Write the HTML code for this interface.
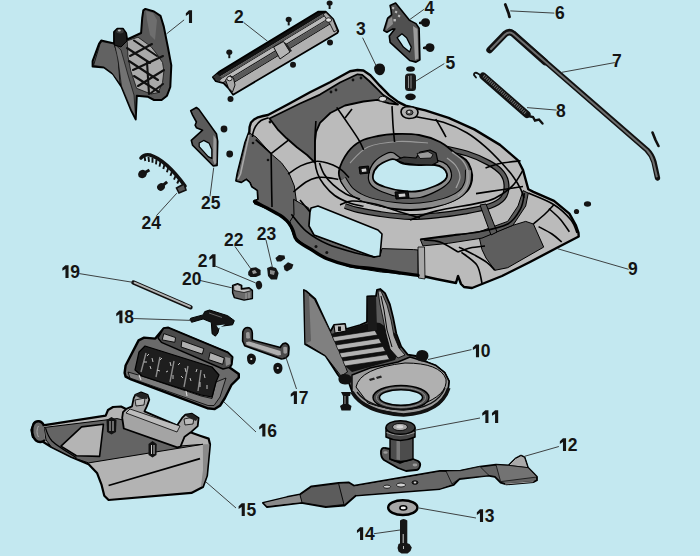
<!DOCTYPE html>
<html><head><meta charset="utf-8"><style>
html,body{margin:0;padding:0;background:#c3e8f0;}
svg{display:block;}
text{font-family:"Liberation Sans",sans-serif;font-weight:bold;font-size:17.5px;fill:#141414;}
</style></head><body>
<svg width="700" height="556" viewBox="0 0 700 556">
<rect width="700" height="556" fill="#c3e8f0"/>
<g id="deck" stroke-linejoin="round">
<path d="M249.6,127 251,122.5 254,119.5 258,117.3 263,116 268,115 290,103.3 310,92.3 330,82.3 350,71.3 357.5,70 363.4,70.5 370.4,75.2 379.8,85.7 389.1,95.1 398.5,102.1 405.5,105.6 420,109.1 425.4,110.3 448.6,117.9 474.3,129.4 500,144.9 518,160.3 523,170 528.3,189.3 533.4,191.9 554,200.9 569.4,213.7 575.9,225.3 578.5,233 578.7,236.5 557.5,247.5 530,262 502,276 472,288 464,287 461,284 458,276 456,283 436,279 418,275 401.4,272.9 372.9,268.6 350,265.7 327,258.6 310,248.6 296.8,240 293,230.5 290.5,225.4 286.7,220.4 280.4,215.3 267.8,208.4 255.2,203.4 254.6,200.9 258.3,199.6 257.7,190.2 252,186.4 250.2,182 246.4,178.8 241.3,182 236.3,180.7 237.7,173 245.4,142.3 249.3,132 Z" fill="#bbbbbb" stroke="#000" stroke-width="2.4"/>
<path d="M269.5,118.5 300,103.5 320,94.6 340,82.5 357.5,74.3 362.2,74.8 369.2,81 377.4,89.2 383.3,95.1 392.6,101 398,104.5 389.1,103.3 377.4,99.8 363.4,101.5 345,105.5 330.3,113 320,122.9 316.1,131.9 314.9,142.1 314.9,162.7 307.1,155 296.9,147.3 286.6,138.3 277.6,129.3 Z" fill="#626262" stroke="#000" stroke-width="1.8"/>
<path d="M249.5,133 256,137 271,153.7 281.4,162.7 289,173 294.3,185.9 296.9,204.9 298,215 300,228 296.8,240 293,230.5 290.5,225.4 286.7,220.4 280.4,215.3 267.8,208.4 255.2,203.4 254.6,200.9 258.3,199.6 257.7,190.2 252,186.4 250.2,182 246.4,178.8 241.3,182 236.3,180.7 237.7,173 245.4,142.3 Z" fill="#636363" stroke="#000" stroke-width="1"/>
<path d="M249,135 L240.5,174 L238,179" fill="none" stroke="#a8a8a8" stroke-width="1.6"/>
<path d="M293.6,199.3 300,203 308.6,207.9 310,212 309,226 314,235 374,257 380,256 382,248.6 413.6,249.6 418,250 418,275.4 401.4,273.5 381.4,272.1 349.3,266.8 327.9,259.3 306.4,246.4 298.6,240 293.6,235.7 291,228 290,221.4 294,215 Z" fill="#646464" stroke="#000" stroke-width="1"/>
<path d="M479.4,238.1 512.9,225.3 525.7,221.4 533.4,224 543.7,247.1 507.7,267.7 494.9,270.3 486,258 482,249.7 Z" fill="#5e5e5e" stroke="#000" stroke-width="1"/>
<path d="M434.0,146.0 C439.5,147.2 457.8,150.7 467.0,153.5 C476.2,156.3 483.2,159.8 489.0,163.0 C494.8,166.2 499.1,169.3 502.0,173.0 C504.9,176.7 506.3,180.8 506.5,185.0 C506.7,189.2 505.8,194.5 503.0,198.0 C500.2,201.5 496.3,203.8 490.0,206.0 C483.7,208.2 473.3,210.0 465.0,211.5 C456.7,213.0 449.2,214.1 440.0,215.0 C430.8,215.9 420.0,217.2 410.0,217.0 C400.0,216.8 388.7,215.2 380.0,214.0 C371.3,212.8 363.8,211.3 358.0,210.0 C352.2,208.7 347.2,206.7 345.0,206.0" fill="none" stroke="#000" stroke-width="6"/>
<path d="M434.0,146.0 C439.5,147.2 457.8,150.7 467.0,153.5 C476.2,156.3 483.2,159.8 489.0,163.0 C494.8,166.2 499.1,169.3 502.0,173.0 C504.9,176.7 506.3,180.8 506.5,185.0 C506.7,189.2 505.8,194.5 503.0,198.0 C500.2,201.5 496.3,203.8 490.0,206.0 C483.7,208.2 473.3,210.0 465.0,211.5 C456.7,213.0 449.2,214.1 440.0,215.0 C430.8,215.9 420.0,217.2 410.0,217.0 C400.0,216.8 388.7,215.2 380.0,214.0 C371.3,212.8 363.8,211.3 358.0,210.0 C352.2,208.7 347.2,206.7 345.0,206.0" fill="none" stroke="#5a5a5a" stroke-width="3.6"/>
<path d="M420.3,239.4 446,236.9 479.4,231.7 507.7,221.4 518,206 523.1,190.6 528.3,193.1 525.7,206 512.9,225.3 482,238.1 448.6,243.3 422.9,245.9 Z" fill="#5a5a5a" stroke="#000" stroke-width="1"/>
<path d="M480,205 L486,204 L497,232 L491,235 Z" fill="#5a5a5a" stroke="#000" stroke-width="1"/>
<path d="M418,247 L424.5,247 L425,279 L418.5,278 Z" fill="#a8a8a8" stroke="#000" stroke-width="0.8"/>
<path d="M339.0,171.0 C340.0,165.8 344.3,157.0 348.0,152.0 C351.7,147.0 356.0,143.7 361.0,141.0 C366.0,138.3 372.3,137.2 378.0,136.0 C383.7,134.8 388.2,134.2 395.0,134.0 C401.8,133.8 411.5,133.7 419.0,135.0 C426.5,136.3 434.0,139.0 440.0,142.0 C446.0,145.0 450.7,150.0 455.0,153.0 C459.3,156.0 463.3,157.3 466.0,160.0 C468.7,162.7 470.0,165.7 471.0,169.0 C472.0,172.3 472.7,176.3 472.0,180.0 C471.3,183.7 470.7,187.3 467.0,191.0 C463.3,194.7 457.0,199.0 450.0,202.0 C443.0,205.0 432.5,207.7 425.0,209.0 C417.5,210.3 411.7,210.3 405.0,210.0 C398.3,209.7 391.7,208.7 385.0,207.0 C378.3,205.3 370.7,202.3 365.0,200.0 C359.3,197.7 354.8,195.8 351.0,193.0 C347.2,190.2 344.0,186.7 342.0,183.0 C340.0,179.3 338.0,176.2 339.0,171.0 Z" fill="#5c5c5c" stroke="#000" stroke-width="1.8"/>
<path d="M343.0,179.0 C344.5,181.1 347.7,187.9 352.0,191.5 C356.3,195.1 361.8,198.2 369.0,200.5 C376.2,202.8 386.5,204.6 395.0,205.5 C403.5,206.4 411.8,206.7 420.0,206.0 C428.2,205.3 437.2,203.6 444.0,201.5 C450.8,199.4 456.6,196.6 460.5,193.5 C464.4,190.4 466.2,186.9 467.5,183.0 C468.8,179.1 468.3,172.2 468.5,170.0" fill="none" stroke="#000" stroke-width="7"/>
<path d="M343.0,179.0 C344.5,181.1 347.7,187.9 352.0,191.5 C356.3,195.1 361.8,198.2 369.0,200.5 C376.2,202.8 386.5,204.6 395.0,205.5 C403.5,206.4 411.8,206.7 420.0,206.0 C428.2,205.3 437.2,203.6 444.0,201.5 C450.8,199.4 456.6,196.6 460.5,193.5 C464.4,190.4 466.2,186.9 467.5,183.0 C468.8,179.1 468.3,172.2 468.5,170.0" fill="none" stroke="#8a8a8a" stroke-width="5"/>
<path d="M368.6,174.8 C369.1,171.0 371.2,165.6 374.2,162.0 C377.1,158.5 383.3,155.0 386.5,153.5 C389.7,152.0 390.6,152.0 393.2,152.8 C395.8,153.6 397.7,157.2 402.2,158.5 C406.6,159.8 414.1,160.2 420.1,160.6 C426.1,160.9 433.5,159.9 438.0,160.6 C442.5,161.3 444.7,162.7 447.0,164.8 C449.2,167.0 451.1,170.5 451.4,173.4 C451.8,176.2 451.4,179.0 449.2,181.9 C447.0,184.7 442.9,187.8 438.0,190.4 C433.1,193.0 426.1,196.3 420.1,197.5 C414.1,198.7 408.5,198.5 402.2,197.5 C395.8,196.6 387.2,194.0 382.0,191.8 C376.8,189.7 373.0,187.6 370.8,184.7 C368.6,181.9 368.0,178.6 368.6,174.8 Z" fill="#8c8c8c" stroke="#000" stroke-width="1.2"/>
<path d="M452.0,152.0 C453.8,153.5 460.3,157.5 463.0,161.0 C465.7,164.5 467.5,168.7 468.0,173.0 C468.5,177.3 467.7,183.2 466.0,187.0 C464.3,190.8 459.3,194.5 458.0,196.0" fill="none" stroke="#a0a0a0" stroke-width="1.4"/>
<path d="M447.0,158.0 C448.5,159.3 453.8,162.8 456.0,166.0 C458.2,169.2 460.0,173.3 460.0,177.0 C460.0,180.7 456.7,186.2 456.0,188.0" fill="none" stroke="#a0a0a0" stroke-width="1.2"/>
<path d="M350.0,163.0 C353.0,160.3 360.0,150.6 368.0,147.0 C376.0,143.4 388.0,142.2 398.0,141.5 C408.0,140.8 423.0,142.8 428.0,143.0" fill="none" stroke="#9a9a9a" stroke-width="1.1"/>
<path d="M373.0,175.0 C373.5,172.3 375.3,168.5 378.0,166.0 C380.7,163.5 386.2,161.1 389.0,160.0 C391.8,158.9 392.7,158.9 395.0,159.5 C397.3,160.1 399.0,162.6 403.0,163.5 C407.0,164.4 413.7,164.8 419.0,165.0 C424.3,165.2 431.0,164.5 435.0,165.0 C439.0,165.5 441.0,166.5 443.0,168.0 C445.0,169.5 446.7,172.0 447.0,174.0 C447.3,176.0 447.0,178.0 445.0,180.0 C443.0,182.0 439.3,184.2 435.0,186.0 C430.7,187.8 424.3,190.2 419.0,191.0 C413.7,191.8 408.7,191.7 403.0,191.0 C397.3,190.3 389.7,188.5 385.0,187.0 C380.3,185.5 377.0,184.0 375.0,182.0 C373.0,180.0 372.5,177.7 373.0,175.0 Z" fill="#c3e8f0" stroke="#000" stroke-width="1.8"/>
<path d="M396,160 L404,157 L416,158 L420,152 L430,150 L436,153 L438,162 L432,165 L416,164.5 L404,163 Z" fill="#3a3a3a" stroke="#000" stroke-width="1.2"/>
<path d="M417,153.5 L428,151.5 L433,154.5 L431,158 L420,158.5 Z" fill="#9a9a9a" stroke="#000" stroke-width="0.8"/>
<path d="M311,208 318,206 378,230 382,234 380,256 374,257 314,235 309,226 310,212 Z" fill="#c3e8f0" stroke="#000" stroke-width="1.6"/>
<path d="M254.6,201.5 C256.8,202.7 263.5,206.3 267.8,208.6 C272.1,210.9 277.2,213.5 280.4,215.5 C283.5,217.5 285.0,218.9 286.7,220.6 C288.4,222.3 289.4,223.9 290.5,225.6 C291.6,227.3 291.9,228.3 293.0,230.7 C294.1,233.1 294.0,237.2 296.8,240.2 C299.6,243.2 305.0,245.7 310.0,248.8 C315.0,251.9 320.3,256.0 327.0,258.8 C333.7,261.6 342.4,264.2 350.0,265.9 C357.6,267.6 364.3,267.6 372.9,268.8 C381.5,270.0 393.9,272.0 401.4,273.1 C408.9,274.2 415.2,275.0 418.0,275.4" fill="none" stroke="#000" stroke-width="3.4" stroke-linecap="round"/>
<g fill="none" stroke="#000" stroke-width="1.6">
<path d="M485.5,168.0 C487.9,167.2 494.1,164.7 500.0,163.5 C505.9,162.3 517.2,161.2 520.6,160.8"/>
<path d="M476.0,193.6 C480.0,193.0 492.2,191.2 500.0,190.0 C507.8,188.8 519.2,187.1 523.0,186.5"/>
<path d="M288.0,174.0 C290.1,172.7 296.4,168.0 300.6,165.9 C304.8,163.8 309.6,162.4 313.2,161.7 C316.8,161.0 318.9,161.1 322.2,161.7 C325.5,162.2 329.7,163.6 333.0,165.0 C336.3,166.4 339.3,168.3 342.0,170.4 C344.7,172.5 347.8,176.4 349.0,177.6"/>
<path d="M293.4,192.0 C295.5,190.3 302.1,184.4 306.0,182.0 C309.9,179.6 313.2,178.3 316.8,177.6 C320.4,176.9 324.0,177.3 327.6,177.6 C331.2,177.9 336.5,179.1 338.3,179.4"/>
<path d="M315.9,121.0 C315.8,123.8 315.1,131.3 315.0,138.0 C314.9,144.7 314.6,155.4 315.0,161.4 C315.4,167.4 316.2,170.1 317.7,174.0 C319.2,177.9 321.2,181.1 324.0,184.7 C326.8,188.3 330.5,192.5 334.7,195.5 C338.9,198.5 344.2,200.9 349.0,202.7 C353.8,204.5 361.1,205.7 363.5,206.3"/>
<path d="M319.5,163.0 C320.2,164.8 321.8,170.4 324.0,174.0 C326.2,177.6 329.4,181.4 333.0,184.7 C336.6,188.0 341.0,191.3 345.5,193.7 C350.0,196.1 357.6,198.1 360.0,199.0"/>
<path d="M255.7,139.6 L271.1,153.7"/>
<path d="M268.6,117.7 C267.3,118.2 263.2,119.0 261.0,120.5 C258.8,122.0 256.8,124.4 255.5,126.5 C254.2,128.6 253.5,131.2 253.0,133.0 C252.5,134.8 252.6,136.3 252.5,137.0"/>
<path d="M271.1,153.7 L289.1,139.6"/>
<path d="M271.1,153.7 C271.2,158.1 271.4,171.1 271.5,180.0 C271.6,188.9 271.9,202.5 272.0,207.0"/>
<path d="M336.7,107.4 C338.6,110.2 344.6,118.7 348.3,124.1 C352.0,129.5 356.0,135.3 358.6,139.6 C361.2,143.9 362.9,148.2 363.7,149.9"/>
<path d="M392.0,106.1 C392.2,109.2 392.6,119.0 393.0,125.0 C393.4,131.0 394.3,139.2 394.6,142.0"/>
<path d="M405.0,114.5 C407.5,115.0 413.6,116.2 420.0,117.5 C426.4,118.8 435.6,119.7 443.4,122.2 C451.2,124.7 459.8,128.6 466.8,132.7 C473.8,136.8 479.6,141.7 485.5,146.8 C491.4,151.9 497.2,158.1 501.9,163.2 C506.6,168.3 510.5,172.9 513.6,177.2 C516.7,181.5 518.9,185.4 520.6,188.9 C522.3,192.4 523.4,196.5 524.0,198.0"/>
<path d="M435.7,119.1 C436.6,120.6 439.3,125.0 441.0,128.0 C442.7,131.0 445.2,135.6 446.0,137.1"/>
<path d="M410.0,220.1 C414.3,218.6 424.6,213.9 435.7,211.1 C446.8,208.3 467.0,205.5 476.9,203.4 C486.8,201.3 488.9,201.3 494.9,198.3 C500.9,195.3 508.2,190.1 512.9,185.4 C517.6,180.7 521.4,172.6 523.1,170.0"/>
<path d="M420.3,239.4 C425.0,238.8 438.8,236.9 448.6,235.6 C458.5,234.3 469.5,233.6 479.4,231.7 C489.2,229.8 500.8,227.8 507.7,224.0 C514.6,220.2 517.8,213.8 520.6,208.6 C523.4,203.4 523.8,195.7 524.4,193.1"/>
<path d="M528.3,193.1 C532.6,195.0 546.9,200.2 554.0,204.7 C561.1,209.2 567.2,215.3 571.0,220.0 C574.8,224.7 576.0,230.8 577.0,233.0"/>
<path d="M533.4,224.0 C535.3,222.3 541.6,217.2 545.0,214.0 C548.4,210.8 552.5,206.2 554.0,204.7"/>
<path d="M538.6,226.6 C540.8,227.8 548.1,231.4 552.0,234.0 C555.9,236.6 560.1,240.7 561.7,242.0"/>
<path d="M548.9,208.6 C550.8,210.3 556.6,215.2 560.0,219.0 C563.4,222.8 567.8,229.6 569.4,231.7"/>
<path d="M458.9,247.1 C461.5,248.4 469.6,252.3 474.3,254.9 C479.0,257.5 483.7,260.0 487.1,262.6 C490.5,265.2 493.6,269.0 494.9,270.3"/>
<path d="M461.4,252.3 C464.0,254.4 473.5,260.0 476.9,265.1 C480.3,270.2 481.1,280.1 482.0,283.1"/>
<path d="M291.4,214.3 C293.9,217.2 300.3,226.4 306.4,231.4 C312.5,236.4 319.7,240.7 327.9,244.3 C336.1,247.9 347.8,250.8 355.7,252.9 C363.6,255.0 371.8,256.4 375.0,257.1"/>
<path d="M340.0,205.0 C342.0,204.3 346.2,201.2 352.0,201.0 C357.8,200.8 367.0,202.2 375.0,204.0 C383.0,205.8 392.5,209.7 400.0,212.0 C407.5,214.3 416.7,217.0 420.0,218.0"/>
<path d="M300.0,200.0 C300.8,201.0 303.3,204.0 305.0,206.0 C306.7,208.0 309.2,211.0 310.0,212.0"/>
<path d="M458.0,252.0 C460.0,251.3 465.5,249.0 470.0,248.0 C474.5,247.0 482.5,246.3 485.0,246.0"/>
<path d="M424.0,240.0 C426.7,240.3 434.3,240.0 440.0,242.0 C445.7,244.0 455.0,250.3 458.0,252.0"/>
<path d="M352,109 L345,118"/>
</g>
<path d="M359,167 L368.5,166 L369.5,173 L360,174 Z M395,192 L408,191 L409,198 L396,199 Z" fill="#111" stroke="#000" stroke-width="1"/>
<path d="M361.5,169 L366,168.5 L366.5,171.5 L362,172 Z M398.5,194 L405,193.5 L405.5,196.5 L399,197 Z" fill="#d0d0d0"/>
<path d="M401,112 Q401,106.5 409,106.5 Q418,107 418,112.5 Q417.5,118.5 409,118.5 Q401.5,118 401,112 Z" fill="#b0b0b0" stroke="#000" stroke-width="1.6"/>
<ellipse cx="409.5" cy="112.5" rx="3.5" ry="2.6" fill="#555" stroke="#000" stroke-width="0.8"/><ellipse cx="409" cy="112" rx="1.4" ry="1.1" fill="#ddd"/>
<ellipse cx="382.7" cy="98.9" rx="4" ry="2.6" fill="#d6d6d6" stroke="#000" stroke-width="0.9"/>
<g fill="#111"><circle cx="270" cy="122" r="1.4"/><circle cx="331" cy="92" r="1.4"/><circle cx="336" cy="90" r="1.4"/><circle cx="353" cy="80" r="1.4"/><circle cx="361" cy="78" r="1.4"/><circle cx="253" cy="143" r="1.3"/><circle cx="268" cy="160" r="1.3"/><circle cx="316" cy="246.4" r="1.5"/><circle cx="326.8" cy="252.4" r="1.5"/></g>
</g>
<g id="p1" stroke-linejoin="round">
<path d="M145.4,8.9 L154,11.5 L160.5,15.8 L163.8,26.6 L168.1,48.2 L171.3,65.4 L170.3,87 L167,95.7 L161.6,100 L154,100 L147.6,96.7 L136.8,95.7 L135.7,119.4 L131.4,110.8 L121.7,87 L113,74 L104.4,67.6 L92.6,66.5 L92.6,61.1 L99,43.9 L101.2,40.6 L114.1,43.4 L114.1,32 L117.4,28.7 L122.8,28.7 L126,33 L127.1,39.5 L141.1,33 L142.2,18 L143.3,10.4 Z" fill="#585858" stroke="#000" stroke-width="2"/>
<path d="M93.5,65.5 L100,44 L102,41.5 L114,44 L118,56 L120,84 L112,73 L104,67 Z" fill="#626262" stroke="#000" stroke-width="0.8"/>
<path d="M114.5,44 L121,50 L128,75 L134,95 L135.5,117 L131.5,110 L121.5,86 L118,60 Z" fill="#727272" stroke="#000" stroke-width="0.6"/>
<path d="M146,11 L153,13 L157,20 L155,40 L150,35 L147,20 Z" fill="#6e6e6e"/>
<g fill="#a9a9a9" stroke="#111" stroke-width="0.8">
<path d="M127.2,40.8 L138,37.2 L151,46.6 L156.7,53.8 L162.5,62.4 L163.9,71 L162.5,82.6 L158.2,92.6 L151,94 L136.6,88.3 L130.8,71 L128,56.7 Z"/>
</g>
<g fill="none" stroke="#111" stroke-width="2.1" stroke-linecap="round">
<path d="M127,48 L150,63"/>
<path d="M134,40.5 L157,56"/>
<path d="M129,61 L158,80"/>
<path d="M134,76 L159,92"/>
<path d="M130,56 L152,44"/>
<path d="M133,70 L163,56"/>
<path d="M138,86 L164,70"/>
<path d="M151,93 L163,84"/>
<path d="M147,62 L149,94"/>
</g>
<path d="M114.3,45 L114.1,32 L117.4,28.7 L122.8,28.7 L126,33 L127,41 L121,47 Z" fill="#1c1c1c" stroke="#000" stroke-width="1"/>
<ellipse cx="120" cy="31.2" rx="3.6" ry="2.2" fill="#3a3a3a"/>
<ellipse cx="119.3" cy="30.6" rx="1.5" ry="1" fill="#bbb"/>
</g>
<clipPath id="c2"><path d="M212.9,77.3 L219.6,71.5 L318,11.75 L325.7,11.75 L333.4,19.5 L338.3,31 L337.3,33 L233.1,94.7 L228.3,88 L223.5,83.1 L215.8,81.2 Z"/></clipPath>
<g id="p2" stroke-linejoin="round">
<g clip-path="url(#c2)">
<path d="M212.9,77.3 L219.6,71.5 L318,11.75 L325.7,11.75 L333.4,19.5 L338.3,31 L337.3,33 L233.1,94.7 L228.3,88 L223.5,83.1 L215.8,81.2 Z" fill="#b5b5b5"/>
<path d="M205,78.4 L345,-6.6 L345,0.7 L205,85.7 Z" fill="#111"/>
<path d="M205,85.7 L345,0.7 L345,3.0 L205,88.0 Z" fill="#555"/>
<path d="M205,88.0 L345,3.0 L345,4.0 L205,89.0 Z" fill="#111"/>
<path d="M205,89.0 L345,4.0 L345,8.0 L205,93.0 Z" fill="#bababa"/>
<path d="M205,93.0 L345,8.0 L345,9.2 L205,94.2 Z" fill="#111"/>
<path d="M205,94.2 L345,9.2 L345,14.4 L205,99.4 Z" fill="#5a5a5a"/>
<path d="M205,99.4 L345,14.4 L345,15.7 L205,100.7 Z" fill="#111"/>
<path d="M205,100.7 L345,15.7 L345,35.4 L205,120.4 Z" fill="#b0b0b0"/>
</g>
<path d="M212.9,77.3 L219.6,71.5 L318,11.75 L325.7,11.75 L333.4,19.5 L338.3,31 L337.3,33 L233.1,94.7 L228.3,88 L223.5,83.1 L215.8,81.2 Z" fill="none" stroke="#000" stroke-width="1.8"/>
<path d="M273.6,47 L283.5,41.5 L290,52 L280,59 Z" fill="#b5b5b5" stroke="#000" stroke-width="0.9"/>
<path d="M283.5,41.5 L287,44 L292,51 L290,52 Z" fill="#222"/>
<path d="M225.5,80 L230,75.5 L233.5,78 L235,85 L232.5,92 L228.5,88 Z" fill="#a8a8a8" stroke="#000" stroke-width="0.9"/>
<ellipse cx="229.5" cy="78.6" rx="2.6" ry="2.2" fill="#d8d8d8" stroke="#000" stroke-width="0.8"/>
<path d="M323,14 L326,12.5 L333,19.5 L337,30 L334,32 L330,24 Z" fill="#a8a8a8" stroke="#000" stroke-width="0.8"/>
<ellipse cx="328.6" cy="20" rx="3" ry="2.2" fill="#e0e0e0" stroke="#000" stroke-width="0.8"/>
<path d="M213,77 L217,74 L222,78 L219,82 Z" fill="#333"/>
</g>
<g id="screws" fill="#141414">
<circle cx="293" cy="64.8" r="3"/><circle cx="330" cy="42.6" r="3"/><circle cx="230.5" cy="99" r="3"/>
<circle cx="224" cy="129" r="3.4"/><circle cx="229.7" cy="154" r="3.4"/>
<circle cx="576.5" cy="211.5" r="2.6"/><ellipse cx="587.5" cy="204" rx="3.6" ry="2.8"/>
<g transform="translate(229.3,53.2)"><ellipse cx="0" cy="-1" rx="3" ry="2.6"/><rect x="-1" y="0" width="2" height="5"/></g>
<g transform="translate(288.7,20.4)"><ellipse cx="0" cy="-1" rx="3" ry="2.6"/><rect x="-1" y="0" width="2" height="5"/></g>
<g transform="translate(329.6,4)"><ellipse cx="0" cy="-1" rx="3" ry="2.6"/><rect x="-1" y="0" width="2" height="5"/></g>
<g transform="translate(142.5,174) rotate(-30)"><ellipse cx="0" cy="0" rx="4.5" ry="4"/><rect x="2" y="-1.5" width="6" height="3"/></g>
<g transform="translate(161,187) rotate(-40)"><ellipse cx="0" cy="0" rx="4" ry="3.6"/><rect x="2" y="-1.5" width="6" height="3"/></g>
</g>
<g id="p24">
<path d="M141,158 Q144,154 150,155 Q166,160 185,186" fill="none" stroke="#111" stroke-width="3.6" stroke-linecap="round"/>
<path d="M144.5,156.5 l0.8,4.5 M148.5,157 l0.5,4.8 M152.5,158 l0,4.8 M156.5,159.5 l-0.5,4.8 M160.5,161.8 l-1,4.8 M164.5,164.5 l-1.2,4.6 M168.3,167.8 l-1.4,4.5 M172,171.5 l-1.6,4.3 M175.7,175.5 l-1.7,4.2 M179,179.5 l-1.8,4" stroke="#111" stroke-width="1.9" fill="none"/>
<path d="M176.5,188 L184,184 L186,190 L179,193 Z" fill="#555" stroke="#111" stroke-width="1.6"/>
</g>
<g id="p25" stroke-linejoin="round">
<path d="M190.7,110.7 L196.4,107.5 L198.9,109.4 L216.5,134 L217.7,141.5 L217.1,165.4 L213.3,166 L192.6,145.3 L191.3,140.3 L202.6,130.2 L196.4,127.7 L195.1,125.2 L196.4,122 L192.6,115.1 Z" fill="#5a5a5a" stroke="#000" stroke-width="1.6"/>
<path d="M213.5,135 L216.3,139 L216.3,163 L214.5,164.5 L213,160 Z" fill="#9a9a9a"/>
<path d="M199.2,143.1 L203.7,140.4 L209,143.1 L211.8,149.4 L211.8,158.4 L208.2,156.6 L199.2,146.7 Z" fill="#c3e8f0" stroke="#000" stroke-width="1.2"/>
</g>
<g id="p3"><path d="M374,68 Q375,63.5 380,63.5 Q385.5,64 385,70 Q384,75.5 379,75.3 Q374.5,74 374,68 Z" fill="#111"/></g>
<g id="p4" stroke-linejoin="round">
<path d="M390.1,5.5 L395.6,3.1 L409.7,20.4 L416,23.6 L419.1,28.3 L419.9,59.7 L416,62.1 L409.7,60.5 L390.1,42.4 L389.3,36.1 L394.8,29 L392.4,29.1 L386.9,32.2 L383.8,30.6 L387.7,18.1 L391.6,14.9 L390.9,9.4 Z" fill="#505050" stroke="#000" stroke-width="1.6"/>
<path d="M413,26 L417.5,29 L418.3,58.5 L415,60 L413.5,33 Z" fill="#9c9c9c"/>
<path d="M386,30 L388.5,19.5 L392,17 L393,24 Z" fill="#8a8a8a"/>
<g fill="#bdbdbd"><rect x="392" y="7" width="2.2" height="2" transform="rotate(35 393 8)"/><rect x="395" y="11" width="2.2" height="2" transform="rotate(35 396 12)"/><rect x="398" y="15" width="2.2" height="2" transform="rotate(35 399 16)"/><rect x="393.5" y="19" width="2.4" height="2.4"/></g>
<path d="M397.1,37.7 L401.9,33.8 L406.6,37.7 L411.3,47.1 L409.7,51.9 L403.4,47.1 Z" fill="#c3e8f0" stroke="#000" stroke-width="1.3"/>
</g>
<g id="p4s" fill="#111">
<path d="M421,22.5 Q421,18.5 425.5,18.3 Q430,18.5 430,22.8 Q429.5,27 425.3,27 Q421.5,26.5 421,22.5 Z M419,22 L422,21 L422.5,24.5 L419,24 Z"/>
<path d="M425.5,47.5 Q425.5,43.3 430,43.2 Q434.5,43.5 434.5,47.8 Q434,52 429.8,52 Q426,51.5 425.5,47.5 Z M423,47 L426,46 L426.5,49.5 L423,49 Z"/>
</g>
<g id="p5">
<ellipse cx="410.5" cy="69" rx="4.4" ry="2.7" fill="#111"/>
<rect x="405" y="73.5" width="11" height="17.5" rx="3.5" fill="#1a1a1a"/>
<path d="M408.5,76 L408.5,88 M411,75.5 L411,88.5" stroke="#9a9a9a" stroke-width="0.9"/>
<ellipse cx="410.5" cy="96.8" rx="5.3" ry="3.4" fill="#111"/>
</g>
<g id="p6"><path d="M505.3,4.5 L508.5,13 L509.5,16.8" stroke="#111" stroke-width="2.8" fill="none" stroke-linecap="round"/></g>
<g id="p7" fill="none" stroke-linecap="round" stroke-linejoin="round">
<path d="M490,50 L505,34.5 Q509,30.5 513,33.5 L647,150 Q652,155 654,162 L657.5,178" stroke="#111" stroke-width="5.4"/>
<path d="M489.5,50 L505,34 Q509,30.5 513,33.5 L545,62" stroke="#111" stroke-width="6.4"/>
<path d="M491,49 L505,34.5 Q509,31 513,33.8 L647,150.3 Q651.5,155 653.4,162 L656.8,176.5" stroke="#6e6e6e" stroke-width="2"/>
<path d="M652.5,132.5 L655.5,140 L658.5,146" stroke="#111" stroke-width="2.6"/>
</g>
<g id="p8" fill="none" stroke-linecap="round">
<path d="M483,76 L527,114.5" stroke="#111" stroke-width="7.2"/>
<path d="M483.5,75.8 L526.5,113.8" stroke="#6a6a6a" stroke-width="3.4" stroke-dasharray="1.1 1.1" stroke-linecap="butt"/>
<path d="M482,76 L477,73 Q474,72 474,75 L476,77.5" stroke="#111" stroke-width="1.9"/>
<path d="M528,116 L533,117 L535,120.5 L539,119.5 L542.5,123.5" stroke="#111" stroke-width="2.4"/>
</g>
<g id="p10" stroke-linejoin="round">
<path d="M303.9,290 L306,291 L315.2,298.9 L330.3,331.6 L334,325 L345,324 L346,329 L360,325 L367,322 L367.2,296.3 L376,296 L377,289.9 L380.2,289 L385,293.1 L389.9,304.4 L393.1,317.4 L396.3,333.5 L401.2,346.5 L407.7,354.6 L416,356 L427.6,362.3 L436.1,365.7 L444.7,372.6 L449,381.1 L448.1,389.7 L441.3,401.7 L425.9,411.1 L403.6,414.6 L377.9,410.3 L360.7,401.7 L352,391.4 L347.9,380 L342,380 L338,375 L325.3,355.6 L305.1,344.2 Z" fill="#5a5a5a" stroke="#000" stroke-width="1.8"/>
<path d="M304.5,291 L314.5,299.5 L330.3,331.6 L340,352 L347.5,372 L341,376 L325.3,355.6 L305.5,343.5 Z" fill="#808080" stroke="#000" stroke-width="0.9"/>
<path d="M304.5,291 L309,294.5 L311,341 L305.5,343.5 Z" fill="#5e5e5e"/>
<path d="M331,334 L372,322 L380,323 L396,334 L401,347 L395,360 L352,372 L345,366 Z" fill="#111"/>
<g fill="#b2b2b2" stroke="#000" stroke-width="0.6">
<path d="M332.5,337 L375,330.5 L377.5,335 L334.5,341.5 Z"/>
<path d="M336,345 L379,338.5 L381.5,343.3 L338,349.8 Z"/>
<path d="M339.5,353 L383,346.5 L385.5,351.3 L341.5,357.8 Z"/>
<path d="M343,361 L387,354.6 L389.5,359.4 L345,366 Z"/>
</g>
<path d="M367.5,297 L376,296.5 L377,330 L368,331 Z" fill="#1a1a1a"/>
<path d="M378,291 L381,291 L387,305 L391,320 L394,336 L399,348 L405,355 L398,358 L390,349 L386,334 L383,318 L380,304 Z" fill="#a8a8a8" stroke="#000" stroke-width="0.8"/>
<path d="M381,296 L384,310 L387,330 L392,347" stroke="#000" stroke-width="1" fill="none"/>
<path d="M334,325 L345,324 L346,331 L335,333 Z" fill="#bdbdbd" stroke="#000" stroke-width="1"/>
<path d="M338,326.5 L341,326.5 L341,331 L338,331 Z" fill="#111"/>
<path d="M352,391.4 L360.7,401.7 L377.9,410.3 L403.6,414.6 L425.9,411.1 L441.3,401.7 L448.1,389.7 L449,381.1 L444.7,372.6 L436.1,365.7 L427.6,362.3 L410,357 L398,362 L370,368 L352,375 Z" fill="#9a9a9a" stroke="#000" stroke-width="1.4"/>
<path d="M356,387 Q360,368 405,363 Q440,363 446,379 Q448,395 420,405 Q390,412 368,403 Z" fill="#b0b0b0" stroke="#000" stroke-width="1"/>

<ellipse cx="401" cy="397.5" rx="28" ry="12" fill="#4e4e4e" stroke="#000" stroke-width="1.4"/>
<ellipse cx="401" cy="397.5" rx="24.5" ry="9.9" fill="none" stroke="#999" stroke-width="0.9"/>
<ellipse cx="401" cy="397.5" rx="21.5" ry="7.8" fill="#c3e8f0" stroke="#000" stroke-width="1.4"/>
<path d="M352,392 Q364,412.5 403.6,415 Q441,412.5 448.8,388" fill="none" stroke="#111" stroke-width="3.6"/>
<path d="M357,392 Q368,407.5 403.6,410 Q437,408 445,388" fill="none" stroke="#111" stroke-width="1.3"/>
<path d="M369,379 l5,-1.5 l1,2 l-5,1.5 z M376,377 l5,-1.5 l1,2 l-5,1.5 z" fill="#222"/>
</g>
<g id="p10n" fill="#111">
<path d="M416,357 Q416,350 422,350 Q428.5,350.5 428.5,356 Q428,361.5 422,361.5 Q416.5,361 416,357 Z"/>
<path d="M338.4,379 Q338.5,374 345,374 Q352,374.5 352,379.5 Q351.5,384.6 345,384.6 Q338.5,384 338.4,379 Z"/>
<path d="M341,392 L351,392 L350,396 L348.5,396 L348.5,404 L351.5,406 L350.5,410.5 L341.5,410.5 L340,406 L343,404 L343,396 Z"/>
</g>
<path d="M345,396 L345,404" stroke="#888" stroke-width="1.2"/>
<g id="p11" stroke-linejoin="round">
<path d="M381,451 Q382,447 385,448 L390,449 L390,459 L400,463 L408,460 L413,459 L418,461 Q421,463 420,466 Q419,470 416,470 L406,471 L398,468 L384,460 Q380.5,457 381,451 Z" fill="#5a5a5a" stroke="#000" stroke-width="1.8"/>
<path d="M390,438 L390,459 Q400,464 413,459 L413,438 Z" fill="#4c4c4c" stroke="#000" stroke-width="1.4"/>
<path d="M396.5,441 L400,441 L400,460 L396.5,459.5 Z" fill="#7a7a7a"/>
<path d="M386,428 L386,437 Q400,444 415,437 L415,428 Z" fill="#454545" stroke="#000" stroke-width="1.5"/>
<path d="M386.5,432.5 Q400,438 414.5,432.5" fill="none" stroke="#9a9a9a" stroke-width="1.1"/>
<ellipse cx="400.5" cy="427.5" rx="14.5" ry="6.8" fill="#3c3c3c" stroke="#000" stroke-width="1.5"/>
<ellipse cx="400" cy="427" rx="7.5" ry="3.6" fill="#a8a8a8" stroke="#000" stroke-width="0.8"/>
<ellipse cx="399.8" cy="426.8" rx="3.4" ry="1.7" fill="#d4d4d4"/>
<ellipse cx="385.5" cy="452.5" rx="2.2" ry="1.3" fill="#9a9a9a"/>
<ellipse cx="415" cy="465" rx="2.4" ry="1.4" fill="#9a9a9a"/>
</g>
<g id="p12" stroke-linejoin="round">
<path d="M262.9,502.9 L287,497 L300,494.3 L311.4,486.3 L338.6,482.9 L348.6,482.3 L354.3,485.7 L440,471 L460.6,470.7 L480,466.6 L496,464.7 L508.6,465.4 L515.4,458.6 L521,455.6 L524.6,457.4 L528,467.7 L533.7,473.4 L537,476.9 L537,480.3 L533.7,482 L506.3,484.4 L500.6,482.6 L494.9,476.9 L488,475.7 L459.4,479 L453.7,484.9 L440,489 L355.7,495.7 L344.3,505.7 L325.7,507 L301.4,502.9 L267,507 Z" fill="#636363" stroke="#000" stroke-width="1.8"/>
<path d="M264,503 L287,497.5 L300,495 L302,502 L267,506 Z" fill="#8a8a8a"/>
<path d="M311.4,487 L338.6,483.5 L344,504.5 L326,506.5 L302,502.5 L300,495 Z" fill="#5c5c5c" stroke="#000" stroke-width="0.9"/>
<path d="M354.3,486.5 L440,471.8 L446,472 L452,484 L440,488.5 L355.7,495 Z" fill="#666"/>
<path d="M508.6,465.4 L515.4,458.6 L521,455.6 L524.6,457.4 L528,467.7 Z" fill="#a9a9a9" stroke="#000" stroke-width="1"/>
<path d="M496,464.7 L508.6,465.4 L528,467.7 L537,477 L500.6,481.6 Z" fill="#737373" stroke="#000" stroke-width="0.7"/>
<path d="M446,471 L460.6,470.7 L480,466.6 L489,475.5 L459.4,478.5 L452,484 Z" fill="#6a6a6a" stroke="#000" stroke-width="0.7"/>
<path d="M505,484 L533.5,481.7" stroke="#999" stroke-width="1"/>
<ellipse cx="387" cy="486.7" rx="3.6" ry="1.6" fill="#d0d0d0" stroke="#000" stroke-width="0.8"/>
<ellipse cx="401" cy="485" rx="4.6" ry="2" fill="#d0d0d0" stroke="#000" stroke-width="0.8"/>
<ellipse cx="415" cy="482.5" rx="3" ry="1.8" fill="#222" stroke="#000" stroke-width="0.8"/>
<ellipse cx="415" cy="482.5" rx="1.3" ry="0.9" fill="#ccc"/>
</g>
<g id="p13"><ellipse cx="402.8" cy="507.6" rx="14.6" ry="7.4" fill="#a6a6a6" stroke="#000" stroke-width="2.4"/><ellipse cx="403.3" cy="507.9" rx="3.4" ry="2.1" fill="#f2f2f2" stroke="#000" stroke-width="1.6"/></g>
<g id="p14">
<path d="M400,520.5 Q403.5,517.5 407.3,520.5 L407.3,544 L400,544 Z" fill="#161616"/>
<path d="M403.2,534 L403.2,546" stroke="#bbb" stroke-width="1.1"/>
<path d="M398.5,544 L401,543 L406.5,543 L409.5,544 L411.8,547.5 L410.5,551 L407.5,553.5 L401.5,553.5 L398.5,551.5 L397.5,548 Z" fill="#161616"/>
<path d="M403.5,546 L403.5,549" stroke="#bbb" stroke-width="1"/>
</g>
<g id="p15" stroke-linejoin="round">
<path d="M34.3,422.9 L38.5,421.5 L41.4,425.7 L105.7,415.7 L108,410 L113,407 L121,406.5 L126,409 L200,435.7 L208.6,438.6 L210,444.3 L207,475.7 L202.9,487 L191.4,492.9 L108.6,500 L104.3,495.7 L101.4,484.3 L97,472.9 L88.6,464.3 L71.4,457 L51.4,447 L40,440 L32.9,437 L31.4,430 Z" fill="#b3b3b3" stroke="#000" stroke-width="2.2"/>
<path d="M44,427.5 L117,418.6 L123,420 L180,446 L202.9,444.3 L88.6,462.9 L71.4,457 L51.4,447 L46,440 Z" fill="#646464" stroke="#000" stroke-width="1"/>
<path d="M61,446.1 L81.6,426.9 L103.4,424.3 L99.6,456.4 L76.4,455.8 Z" fill="#b4b4b4" stroke="#000" stroke-width="1.6"/>
<path d="M202.9,444.3 L209.5,444.3 L206.5,475.7 L202.5,486.5 L201,486 L203,470 Z" fill="#8a8a8a"/>
<path d="M108.6,485.5 L200,458.6" stroke="#000" stroke-width="1.8"/>
<path d="M44,426 C42,420 36,420 33.5,424 C31,429 32,437 36,440.5 C39,443 43,442 45,440" fill="#6a6a6a" stroke="#000" stroke-width="2.4"/>
<path d="M38.5,426 C36.5,429 36.5,434 38.5,437" fill="none" stroke="#aaa" stroke-width="1"/>
<path d="M45.6,428.1 C47,433 48.5,437 52,441 C57,446 66,451 76.4,457.7" fill="none" stroke="#000" stroke-width="1.2"/>
<path d="M123,412.1 L126.3,408.8 L132,406.4 L133.7,398.1 L135.3,394.9 L141.1,392.4 L147.6,394.9 L149.3,399.8 L146.8,406.4 L144.4,411.3 L177.2,425.3 L182.1,417.9 L185.4,414.6 L192,413.7 L198.6,417.9 L197.7,426.1 L190.4,432.6 L184.6,436.7 L180.5,446.6 L177.2,447.4 L123.8,428.5 L122.2,417.9 Z" fill="#a4a4a4" stroke="#000" stroke-width="1.8"/>
<path d="M126,413 L177,432 L180,426 L130,409 Z" fill="#bcbcbc" stroke="#000" stroke-width="0.8"/>
<path d="M135,400 L145,398 L144,405 L136,406 Z M184,419 L194,417 L193,424 L185,425 Z" fill="#bbb" stroke="#000" stroke-width="0.8"/>
<path d="M134,395 L141,392.4 L148,395 L147,399 L140,398 Z M184.5,415 L192,413.7 L198,418 L196,421 L190,418.5 Z" fill="#222"/>
<g fill="#111">
<path d="M106.5,420 L111.5,417 L116.5,420 L116,432 L111.5,434.5 L107,432 Z"/>
<path d="M148.5,444 L152.5,441 L156.7,444 L156.5,455 L152.5,457.5 L148.5,455 Z"/>
</g>
<path d="M110,421 L110,431 M113,421 L113,431 M151.5,445 L151.5,454 M154,445 L154,454" stroke="#ddd" stroke-width="0.9"/>
</g>
<g id="p16" stroke-linejoin="round">
<path d="M124.6,372.9 L125.6,365.5 L138.6,340.4 L144.1,337.6 L155.3,338.6 L163.6,328.4 L168.3,327.8 L227.7,352.5 L232.3,357.1 L231.4,364.6 L229.6,367.4 L238.8,373.9 L238.8,377.6 L231.4,385 L224.9,398 L220.3,405.4 L214.7,409.1 L207.3,408.2 L131.1,379.4 L125.6,376.6 Z" fill="#6a6a6a" stroke="#000" stroke-width="2.4"/>
<path d="M128,372 L140,375.5 L201,396 L212,398.5 L216,382 L226,378 L220,397 L214,405.5 L208,405.5 L130,378 Z" fill="#7c7c7c" stroke="#000" stroke-width="0.8"/>
<path d="M139,352 L145,346 L212,367 L219,375 L216,382 L212,397 L201,395 L142,376 L135,370 Z" fill="#1e1e1e" stroke="#000" stroke-width="1.2"/>
<path d="M163.6,328.4 L168.3,327.8 L227.7,352.5 L232.3,357.1 L231.4,364.6 L229.6,367.4 L223,369 L161.4,342.3 L158,338 Z" fill="#4a4a4a" stroke="#000" stroke-width="1.4"/>
<g fill="#b0b0b0" stroke="#000" stroke-width="0.9">
<path d="M163.8,333.6 L175.6,337.6 L174.8,342.3 L162.2,339.9 Z"/>
<path d="M181.9,340.7 L203.9,348.6 L202.3,354.1 L181.1,347 Z"/>
<path d="M210.1,352.5 L224.3,358 L222.7,364.3 L208.6,359.6 Z"/>
</g>
<path d="M225,357 L230,358 L230.5,364 L226,366 Z" fill="#8a8a8a"/>
<g stroke="#8a8a8a" stroke-width="1.4" fill="none">
<path d="M146,353 L141,372 M160,357 L156,377 M174,361 L170,382 M188,366 L184,387 M201,370 L198,391"/>
</g>
<g stroke="#d0d0d0" stroke-width="0.9" fill="none">
<path d="M147,356 l2,-2 M152,358 l1,4 M160,360 l2,-2 M170,362 l1,4 M178,365 l2,-2 M185,368 l1,4 M196,372 l1,-3 M204,374 l1,4 M150,366 l1,3 M166,372 l2,-1 M173,375 l0,4 M190,378 l1,3 M200,382 l0,5 M157,370 l3,1 M144,362 l3,0 M181,376 l2,2 M207,385 l0,4"/>
</g>
<path d="M139,375 L141,380 M186,391 L187,396" stroke="#ddd" stroke-width="1.1"/>
</g>
<g id="p17" stroke-linejoin="round">
<path d="M242.6,341 L242.8,332 Q244,327.5 247.8,327.5 Q252,328 252.3,333 L252.3,340 L280.4,347.5 L281,346 Q283,342.8 286,343.2 Q289.3,344.5 289,349 L288.5,355 Q287,358 283,358.8 L281.4,359 L244.7,345.8 Z" fill="#4a4a4a" stroke="#000" stroke-width="1.6"/>
<path d="M246,342.3 L249,341.5 L280.5,351 L281,355 L278,355.5 L246.5,344.8 Z" fill="#b0b0b0"/>
<path d="M246,333 Q247.5,331.5 249.5,332.5 L250,338 Q248,339 246.2,338 Z" fill="#9a9a9a"/>
<path d="M283.2,347.5 Q285,346 287,347.5 L287,353 Q285,354.5 283.5,353 Z" fill="#9a9a9a"/>
</g>
<g id="p17s" fill="#111">
<path d="M247,358 Q247,354 251,353.5 Q255.5,354 256,358.5 Q256,363.5 251.5,364.8 Q247,364 247,358 Z"/>
<path d="M273.3,368 Q273.3,363 277.8,362.7 Q282.3,363 282.5,368 Q282.5,373 278,374 Q273.5,373.5 273.3,368 Z"/>
<circle cx="251.3" cy="359" r="1.1" fill="#ddd"/><circle cx="277.8" cy="368" r="1.1" fill="#ddd"/>
</g>
<g id="p18"><path d="M189.9,319 L191.6,322.3 L203.1,319 L211.3,322.3 L212.1,333.8 L215.4,336.2 L217.9,333 L219.5,326.4 L232.6,324.8 L234.3,320.6 L227.7,315.7 L209.6,310 L204.7,311.6 L203.1,314.9 L190.8,318.2 Z" fill="#151515" stroke="#000" stroke-width="1"/>
<path d="M216.5,325.5 L225,324.5 L218.5,328.5 Z" fill="#c3e8f0"/>
<path d="M209,313 L222,317.5" stroke="#666" stroke-width="1"/></g>
<g id="p19"><path d="M133.5,282.6 L190.5,307.3" stroke="#111" stroke-width="4.4" stroke-linecap="round"/><path d="M134.5,282.6 L190,306.7" stroke="#b4b4b4" stroke-width="1.8" stroke-linecap="round"/></g>
<g id="p20" stroke-linejoin="round">
<path d="M232.6,285.3 L237.6,283.7 L241.7,285.3 L241.7,288.6 L249.1,287.8 L252.4,290.2 L252.4,298.5 L244.1,300.1 L234.3,297.6 L232.6,292.7 Z" fill="#6a6a6a" stroke="#000" stroke-width="1.4"/>
<path d="M233.5,286 L237.6,284.5 L241,286 L241,289.5 L249,288.7 L251.5,290.5 L244,292.5 L234,290.5 Z" fill="#c2c2c2" stroke="#000" stroke-width="0.7"/>
<path d="M246,293 L246,299 M249,292.5 L249,298.5" stroke="#aaa" stroke-width="0.9"/>
</g>
<g id="smallparts" fill="#151515">
<path d="M255.6,283 Q257,280.4 259.5,280.8 Q262.3,282 262.2,286 Q261.5,289.4 258.5,289.4 Q255.6,288.5 255.6,283 Z"/>
<path d="M248.2,272 L251,268 L256,267.2 L260.6,270 L260.6,275 L256,277.1 L250.5,277 L248.2,275 Z"/>
<path d="M267.1,268 L271,266.4 L276,268 L278.6,273 L277,279.6 L271,279.6 L268,276 Z"/>
<path d="M275.4,258 L279,255 L284.5,255.5 L285.2,258.5 L281,261.5 L277,261.5 Z"/>
<path d="M283.6,266 L288,262.3 L293.4,264.5 L292,268.5 L287,271.4 L284.5,270 Z"/>
</g>
<path d="M252,271 L255,270 L257,273 L253,274 Z" fill="#999"/>
<path d="M270,270 L275,271 L274,275 L270,274 Z" fill="#888"/>
<g id="leaders" stroke="#2e2e2e" stroke-width="0.9" fill="none">
<path d="M184.1,19.9 L166.5,33.9"/>
<path d="M243.7,22.5 L267.5,41.2"/>
<path d="M362.6,37.7 L376,65.5"/>
<path d="M423.9,9.4 L409.7,19.6"/>
<path d="M444.3,63.6 L416,81"/>
<path d="M510.3,10.9 L554.3,13.1"/>
<path d="M614.8,62.6 L561.9,72.3"/>
<path d="M527,107.6 L556.6,110.1"/>
<path d="M557.5,248.7 L628.6,269.3"/>
<path d="M471.5,349.6 L428,359.5"/>
<path d="M480,418 L416,430"/>
<path d="M558.9,446.5 L524.6,456.3"/>
<path d="M419,508 L476,518"/>
<path d="M374,533.7 L400,530"/>
<path d="M206,482 L236,508"/>
<path d="M224,402 L256,432"/>
<path d="M296.5,389 L285.8,357"/>
<path d="M133.2,318.5 L191,320.4"/>
<path d="M79.3,273.6 L132.7,282.3"/>
<path d="M199.8,280.4 L231.8,287.8"/>
<path d="M215.4,266.1 L255.6,282.9"/>
<path d="M235,246.5 L251,269"/>
<path d="M266,240 L272.5,267.7"/>
<path d="M156.4,215.7 L176.8,193.2"/>
<path d="M210,196.4 L213.7,167.7"/>
</g>
<g id="labels">
<text x="234.10" y="22.9">2</text>
<text x="356.10" y="35.4">3</text>
<text x="424.60" y="14.1">4</text>
<text x="445.60" y="69.1">5</text>
<text x="555.00" y="19">6</text>
<text x="612.00" y="66.9">7</text>
<text x="555.90" y="116.5">8</text>
<text x="628.00" y="274.6">9</text>
<text x="480.78" y="357.2">0</text>
<text x="567.78" y="451">2</text>
<text x="484.78" y="522">3</text>
<text x="364.88" y="540">4</text>
<text x="246.53" y="516">5</text>
<text x="267.13" y="436.5">6</text>
<text x="298.68" y="403.9">7</text>
<text x="124.18" y="323.3">8</text>
<text x="70.28" y="277.9">9</text>
<text x="182.00" y="284.5">2</text>
<text x="191.73" y="284.5">0</text>
<text x="197.80" y="267">2</text>
<text x="224.00" y="246">2</text>
<text x="233.73" y="246">2</text>
<text x="256.80" y="240.4">2</text>
<text x="266.53" y="240.4">3</text>
<text x="141.50" y="229.2">2</text>
<text x="151.23" y="229.2">4</text>
<text x="200.90" y="208.9">2</text>
<text x="210.63" y="208.9">5</text>
<path fill="#141414" d="M188.95,10.30 L192.05,10.30 L192.05,23.00 L188.95,23.00 L188.95,14.00 L185.85,15.90 L185.85,13.20 Z M475.95,344.50 L479.05,344.50 L479.05,357.20 L475.95,357.20 L475.95,348.20 L472.85,350.10 L472.85,347.40 Z M485.35,410.20 L488.45,410.20 L488.45,422.90 L485.35,422.90 L485.35,413.90 L482.25,415.80 L482.25,413.10 Z M495.08,410.20 L498.18,410.20 L498.18,422.90 L495.08,422.90 L495.08,413.90 L491.98,415.80 L491.98,413.10 Z M562.95,438.30 L566.05,438.30 L566.05,451.00 L562.95,451.00 L562.95,442.00 L559.85,443.90 L559.85,441.20 Z M479.95,509.30 L483.05,509.30 L483.05,522.00 L479.95,522.00 L479.95,513.00 L476.85,514.90 L476.85,512.20 Z M360.05,527.30 L363.15,527.30 L363.15,540.00 L360.05,540.00 L360.05,531.00 L356.95,532.90 L356.95,530.20 Z M241.70,503.30 L244.80,503.30 L244.80,516.00 L241.70,516.00 L241.70,507.00 L238.60,508.90 L238.60,506.20 Z M262.30,423.80 L265.40,423.80 L265.40,436.50 L262.30,436.50 L262.30,427.50 L259.20,429.40 L259.20,426.70 Z M293.85,391.20 L296.95,391.20 L296.95,403.90 L293.85,403.90 L293.85,394.90 L290.75,396.80 L290.75,394.10 Z M119.35,310.60 L122.45,310.60 L122.45,323.30 L119.35,323.30 L119.35,314.30 L116.25,316.20 L116.25,313.50 Z M65.45,265.20 L68.55,265.20 L68.55,277.90 L65.45,277.90 L65.45,268.90 L62.35,270.80 L62.35,268.10 Z M212.43,254.30 L215.53,254.30 L215.53,267.00 L212.43,267.00 L212.43,258.00 L209.33,259.90 L209.33,257.20 Z"/>
</g>
</svg>
</body></html>
